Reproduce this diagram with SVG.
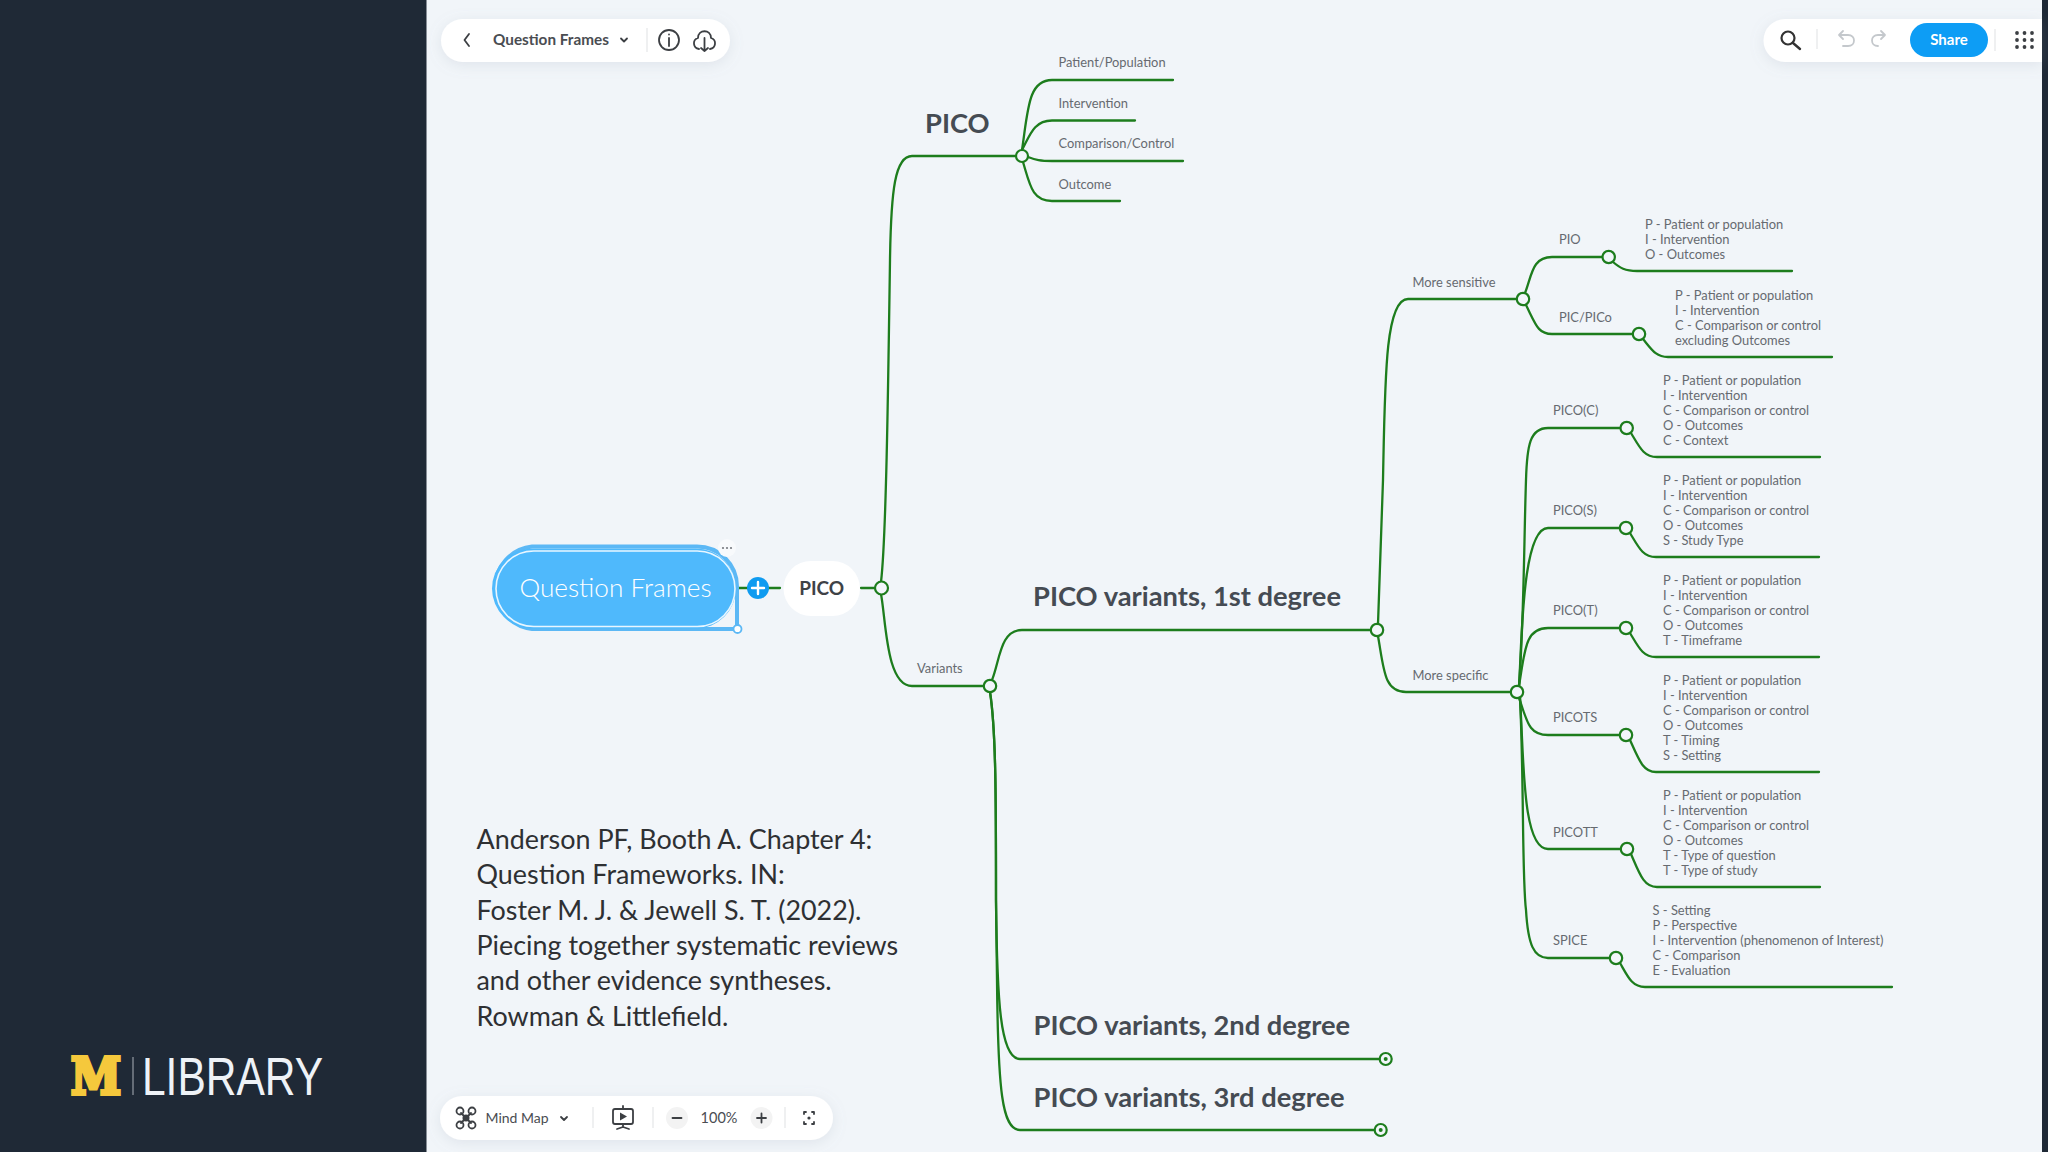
<svg xmlns="http://www.w3.org/2000/svg" width="2048" height="1152" viewBox="0 0 2048 1152">
<defs><filter id="sh" x="-10%" y="-40%" width="120%" height="190%"><feDropShadow dx="0" dy="3" stdDeviation="7" flood-color="#8a97a8" flood-opacity="0.18"/></filter></defs>
<style>
text{font-family:"Lato","Open Sans","Liberation Sans",sans-serif}
.c{fill:none;stroke:#1d7d1d;stroke-width:2.3;stroke-linecap:round}
.n{fill:#f2f6fa;stroke:#1d7d1d;stroke-width:2.2}
.s{font-size:12.9px;fill:#666a70}
.h{font-size:27.3px;font-weight:700;fill:#454b53}
.d{font-size:26.9px;fill:#2e3033}
.t{fill:#4a4d52}
.i{fill:none;stroke:#3c3f43;stroke-width:1.8;stroke-linecap:round;stroke-linejoin:round}
.g{fill:none;stroke:#c4c8cc;stroke-width:1.8;stroke-linecap:round;stroke-linejoin:round}
.v{stroke:#e6e8ea;stroke-width:1.3}
</style>
<rect width="2048" height="1152" fill="#f1f5f9"/>
<rect width="426.500" height="1152" fill="#1f2936"/>
<rect x="2042" width="6" height="1152" fill="#1f2936"/>

<g id="connectors">
<path class="c" d="M716 588H780M861 588H875"/>
<path class="c" d="M881 582C886 540 888 400 890 260C891 190 895 156 912 156L1016 156"/>
<path class="c" d="M881 594C886 620 886 686 912 686L984 686"/>
<path class="c" d="M1022 150C1028 110 1028 80 1052 80L1173 80"/>
<path class="c" d="M1022 150C1030 135 1034 120.500 1052 120.500L1135 120.500"/>
<path class="c" d="M1028 157C1036 160 1040 161 1052 161L1183 161"/>
<path class="c" d="M1023 162C1030 185 1032 201 1052 201L1120 201"/>
<path class="c" d="M992 680C1000 660 1000 630 1022 630L1371 630"/>
<path class="c" d="M990 692C996 730 996 800 996 900C997 1000 1000 1059 1020 1059L1380 1059"/>
<path class="c" d="M990 692C996 730 996 800 996 900L997 980C998 1090 1002 1130 1020 1130L1375 1130"/>
<path class="c" d="M1378 624L1383 480C1385 380 1385 299 1408 299L1517 299"/>
<path class="c" d="M1378 636C1384 670 1384 692 1406 692L1511 692"/>
<path class="c" d="M1525 293C1532 275 1532 257 1552 257L1603 257"/>
<path class="c" d="M1526 305C1536 325 1538 334 1552 334L1633 334"/>
<path class="c" d="M1613 262C1620 268 1625 271 1637 271L1792 271"/>
<path class="c" d="M1643 339C1652 350 1656 357 1668 357L1832 357"/>
<path class="c" d="M1519 686C1524 620 1524 540 1526 480C1527 445 1530 428 1548 428L1620 428"/>
<path class="c" d="M1519 686C1522 640 1522 528 1548 528L1620 528"/>
<path class="c" d="M1519 686C1525 650 1525 628 1548 628L1620 628"/>
<path class="c" d="M1519 698C1527 720 1528 735 1548 735L1620 735"/>
<path class="c" d="M1520 698C1524 760 1522 849 1548 849L1621 849"/>
<path class="c" d="M1520 698C1524 780 1522 880 1526 910C1528 945 1534 958 1548 958L1610 958"/>
<path class="c" d="M1631 433C1640 448 1644 457 1657 457L1820 457"/>
<path class="c" d="M1630 533C1639 548 1643 557 1656 557L1819 557"/>
<path class="c" d="M1630 633C1639 648 1643 657 1656 657L1819 657"/>
<path class="c" d="M1630 740C1639 760 1643 772 1656 772L1819 772"/>
<path class="c" d="M1631 854C1640 875 1644 887 1657 887L1820 887"/>
<path class="c" d="M1620 963C1628 977 1632 987 1645 987L1892 987"/>
</g>

<g id="root">
<path d="M532 546.500H697A40 40 0 0 1 737 586.500V629H532A41.500 41.500 0 0 1 532 546.500Z" fill="none" stroke="#5cb8f5" stroke-width="4"/>
<rect x="492" y="548.500" width="244" height="80" rx="40" fill="#4fb9fc"/>
<rect x="496" y="551" width="239" height="75.500" rx="37.700" fill="none" stroke="#e8f6ff" stroke-width="1.600"/>
<text x="615.500" y="596.500" text-anchor="middle" font-size="26.200" font-weight="300" fill="#ffffff">Question Frames</text>
<circle cx="727" cy="548" r="9" fill="#f8fafc"/>
<circle cx="723" cy="548" r="1.100" fill="#777b80"/><circle cx="727" cy="548" r="1.100" fill="#777b80"/><circle cx="731" cy="548" r="1.100" fill="#777b80"/>
<circle cx="737.500" cy="629" r="4" fill="#fff" stroke="#5cb8f5" stroke-width="1.800"/>
<circle cx="758" cy="588" r="11" fill="#0f9bf0"/>
<path d="M752 588H764M758 582V594" stroke="#fff" stroke-width="2.400" stroke-linecap="round"/>
</g>
<g id="pico-center">
<rect x="783.500" y="561" width="76.500" height="55" rx="27.500" fill="#fff"/>
<text x="821.700" y="594.500" text-anchor="middle" font-size="19" font-weight="700" fill="#3e4247">PICO</text>
<circle class="n" cx="881.500" cy="588" r="6.500"/>
</g>
<g id="pico">
<text class="h" x="925" y="133">PICO</text>
<circle class="n" cx="1022" cy="156" r="6"/>
</g>
<g id="patient"><text class="s" x="1058.500" y="67">Patient/Population</text></g>
<g id="intervention"><text class="s" x="1058.500" y="107.500">Intervention</text></g>
<g id="comparison"><text class="s" x="1058.500" y="148">Comparison/Control</text></g>
<g id="outcome"><text class="s" x="1058.500" y="188.500">Outcome</text></g>
<g id="variants">
<text class="s" x="917" y="673">Variants</text>
<circle class="n" cx="990" cy="686" r="6.200"/>
</g>
<g id="degree1">
<text class="h" x="1033" y="606">PICO variants, 1st degree</text>
<circle class="n" cx="1377" cy="630" r="6.200"/>
</g>
<g id="degree2">
<text class="h" x="1033.500" y="1035">PICO variants, 2nd degree</text>
<circle class="n" cx="1385.700" cy="1059" r="6"/><circle cx="1385.700" cy="1059" r="2" fill="#1d7d1d"/>
</g>
<g id="degree3">
<text class="h" x="1033.500" y="1106.500">PICO variants, 3rd degree</text>
<circle class="n" cx="1380.700" cy="1130" r="6"/><circle cx="1380.700" cy="1130" r="2" fill="#1d7d1d"/>
</g>
<g id="more-sensitive">
<text class="s" x="1412.500" y="286.500">More sensitive</text>
<circle class="n" cx="1523" cy="299" r="6.200"/>
</g>
<g id="more-specific">
<text class="s" x="1412.500" y="679.500">More specific</text>
<circle class="n" cx="1517" cy="692" r="6.200"/>
</g>
<g id="pio">
<text class="s" x="1559" y="243.500">PIO</text>
<circle class="n" cx="1608.700" cy="257" r="6.200"/>
<text class="s" x="1645" y="228.500">P - Patient or population</text>
<text class="s" x="1645" y="243.500">I - Intervention</text>
<text class="s" x="1645" y="258.500">O - Outcomes</text>
</g>
<g id="pic">
<text class="s" x="1559" y="321.500">PIC/PICo</text>
<circle class="n" cx="1639" cy="334" r="6.200"/>
<text class="s" x="1675" y="299.500">P - Patient or population</text>
<text class="s" x="1675" y="314.500">I - Intervention</text>
<text class="s" x="1675" y="329.500">C - Comparison or control</text>
<text class="s" x="1675" y="344.500">excluding Outcomes</text>
</g>
<g id="pico-c">
<text class="s" x="1553" y="414.500">PICO(C)</text>
<circle class="n" cx="1626.700" cy="428" r="6.200"/>
<text class="s" x="1663" y="385">P - Patient or population</text>
<text class="s" x="1663" y="400">I - Intervention</text>
<text class="s" x="1663" y="415">C - Comparison or control</text>
<text class="s" x="1663" y="430">O - Outcomes</text>
<text class="s" x="1663" y="445">C - Context</text>
</g>
<g id="pico-s">
<text class="s" x="1553" y="515">PICO(S)</text>
<circle class="n" cx="1626" cy="528" r="6.200"/>
<text class="s" x="1663" y="484.500">P - Patient or population</text>
<text class="s" x="1663" y="499.500">I - Intervention</text>
<text class="s" x="1663" y="514.500">C - Comparison or control</text>
<text class="s" x="1663" y="529.500">O - Outcomes</text>
<text class="s" x="1663" y="544.500">S - Study Type</text>
</g>
<g id="pico-t">
<text class="s" x="1553" y="615">PICO(T)</text>
<circle class="n" cx="1626" cy="628" r="6.200"/>
<text class="s" x="1663" y="584.500">P - Patient or population</text>
<text class="s" x="1663" y="599.500">I - Intervention</text>
<text class="s" x="1663" y="614.500">C - Comparison or control</text>
<text class="s" x="1663" y="629.500">O - Outcomes</text>
<text class="s" x="1663" y="644.500">T - Timeframe</text>
</g>
<g id="picots">
<text class="s" x="1553" y="721.500">PICOTS</text>
<circle class="n" cx="1626" cy="735" r="6.200"/>
<text class="s" x="1663" y="685">P - Patient or population</text>
<text class="s" x="1663" y="700">I - Intervention</text>
<text class="s" x="1663" y="715">C - Comparison or control</text>
<text class="s" x="1663" y="730">O - Outcomes</text>
<text class="s" x="1663" y="745">T - Timing</text>
<text class="s" x="1663" y="760">S - Setting</text>
</g>
<g id="picott">
<text class="s" x="1553" y="836.500">PICOTT</text>
<circle class="n" cx="1627" cy="849" r="6.200"/>
<text class="s" x="1663" y="800">P - Patient or population</text>
<text class="s" x="1663" y="815">I - Intervention</text>
<text class="s" x="1663" y="830">C - Comparison or control</text>
<text class="s" x="1663" y="845">O - Outcomes</text>
<text class="s" x="1663" y="860">T - Type of question</text>
<text class="s" x="1663" y="875">T - Type of study</text>
</g>
<g id="spice">
<text class="s" x="1553" y="945">SPICE</text>
<circle class="n" cx="1616" cy="958" r="6.200"/>
<text class="s" x="1652.500" y="915">S - Setting</text>
<text class="s" x="1652.500" y="930">P - Perspective</text>
<text class="s" x="1652.500" y="945">I - Intervention (phenomenon of Interest)</text>
<text class="s" x="1652.500" y="960">C - Comparison</text>
<text class="s" x="1652.500" y="975">E - Evaluation</text>
</g>

<g id="citation">
<text class="d" x="476.500" y="848.500">Anderson PF, Booth A. Chapter 4:</text>
<text class="d" x="476.500" y="884">Question Frameworks. IN:</text>
<text class="d" x="476.500" y="919.500">Foster M. J. &amp; Jewell S. T. (2022).</text>
<text class="d" x="476.500" y="954.500">Piecing together systematic reviews</text>
<text class="d" x="476.500" y="990">and other evidence syntheses.</text>
<text class="d" x="476.500" y="1025.500">Rowman &amp; Littlefield.</text>
</g>

<g id="toolbar-top">
<rect x="441" y="19" width="289" height="43" rx="21.500" fill="#fff" filter="url(#sh)"/>
<path class="i" d="M469 34L464.500 40L469 46"/>
<text class="t" x="493" y="45" font-size="15.300" font-weight="700">Question Frames</text>
<path class="i" d="M621 38.500L624 41.500L627 38.500"/>
<line class="v" x1="647" y1="28" x2="647" y2="52"/>
<circle class="i" cx="669" cy="40" r="10"/>
<path class="i" d="M669 38V46M669 34.500V34.600"/>
<path class="i" d="M699 49C693 48 692 40 698 38C698 29 711 29 711 38C717 40 716 48 710 49M704.500 38V51M701 48L704.500 51L708 48"/>
</g>
<g id="toolbar-right">
<path d="M1785 19H2042V62H1785A21.500 21.500 0 0 1 1785 19Z" fill="#fff" filter="url(#sh)"/>
<circle cx="1788" cy="38" r="6.500" fill="none" stroke="#333" stroke-width="2.200"/>
<path d="M1793 43L1800 49" stroke="#333" stroke-width="2.400" stroke-linecap="round"/>
<line class="v" x1="1817" y1="29" x2="1817" y2="49"/>
<path class="g" d="M1839 35H1848C1856 35 1856 46 1848 46H1843M1843 31L1839 35L1843 39"/>
<path class="g" d="M1885 35H1878C1870 35 1870 46 1878 46M1881 31L1885 35L1881 39"/>
<rect x="1910" y="23" width="78" height="34" rx="17" fill="#0d9df5"/>
<text x="1949" y="45" text-anchor="middle" font-size="15" font-weight="700" fill="#fff">Share</text>
<line class="v" x1="1995" y1="29" x2="1995" y2="51"/>
<g fill="#3c3f43"><circle cx="2017" cy="33" r="1.900"/><circle cx="2024.500" cy="33" r="1.900"/><circle cx="2032" cy="33" r="1.900"/><circle cx="2017" cy="40" r="1.900"/><circle cx="2024.500" cy="40" r="1.900"/><circle cx="2032" cy="40" r="1.900"/><circle cx="2017" cy="47" r="1.900"/><circle cx="2024.500" cy="47" r="1.900"/><circle cx="2032" cy="47" r="1.900"/></g>
</g>
<g id="toolbar-bottom">
<rect x="440" y="1096" width="393" height="44" rx="22" fill="#fff" filter="url(#sh)"/>
<path class="i" stroke-width="2.200" d="M461 1113L471 1123M471 1113L461 1123"/>
<circle cx="466" cy="1118" r="3.500" fill="#3c3f43"/>
<circle class="i" cx="460" cy="1111" r="3.500"/><circle class="i" cx="472" cy="1111" r="3.500"/><circle class="i" cx="460" cy="1125" r="3.500"/><circle class="i" cx="472" cy="1125" r="3.500"/>
<text class="t" x="485.500" y="1123" font-size="14">Mind Map</text>
<path class="i" d="M561 1117L564 1120L567 1117"/>
<line class="v" x1="593" y1="1107" x2="593" y2="1128"/>
<rect class="i" x="613" y="1109" width="20" height="15" rx="2"/>
<path d="M620 1112.500L627 1116.500L620 1120.500Z" fill="#3c3f43"/>
<path class="i" d="M623 1106V1109M623 1124V1127M617 1129L623 1127L629 1129"/>
<line class="v" x1="653" y1="1107" x2="653" y2="1128"/>
<circle cx="677" cy="1118" r="11" fill="#f3f3f3"/>
<path class="i" d="M672.500 1118H681.500"/>
<text class="t" x="719" y="1123" text-anchor="middle" font-size="14.500">100%</text>
<circle cx="761.500" cy="1118" r="11" fill="#f3f3f3"/>
<path class="i" d="M757 1118H766M761.500 1113.500V1122.500"/>
<line class="v" x1="785" y1="1107" x2="785" y2="1128"/>
<path class="i" stroke-width="1.500" stroke="#777" d="M804 1114V1112H806M812 1112H814V1114M814 1122V1124H812M806 1124H804V1122"/>
<circle cx="809" cy="1118" r="1.600" fill="#3c3f43"/>
</g>
<g id="logo">
<text x="96" y="1094" text-anchor="middle" style="font-family:'DejaVu Serif',serif" font-size="50" font-weight="700" fill="#f5c83c" stroke="#f5c83c" stroke-width="4" stroke-linejoin="miter" textLength="50" lengthAdjust="spacingAndGlyphs">M</text>
<line x1="133" y1="1057" x2="133" y2="1095" stroke="#8b929b" stroke-width="1.300"/>
<text x="142" y="1095" style="font-family:'Liberation Sans',sans-serif" font-size="53" fill="#eef2f7" textLength="181" lengthAdjust="spacingAndGlyphs">LIBRARY</text>
</g>
</svg>
